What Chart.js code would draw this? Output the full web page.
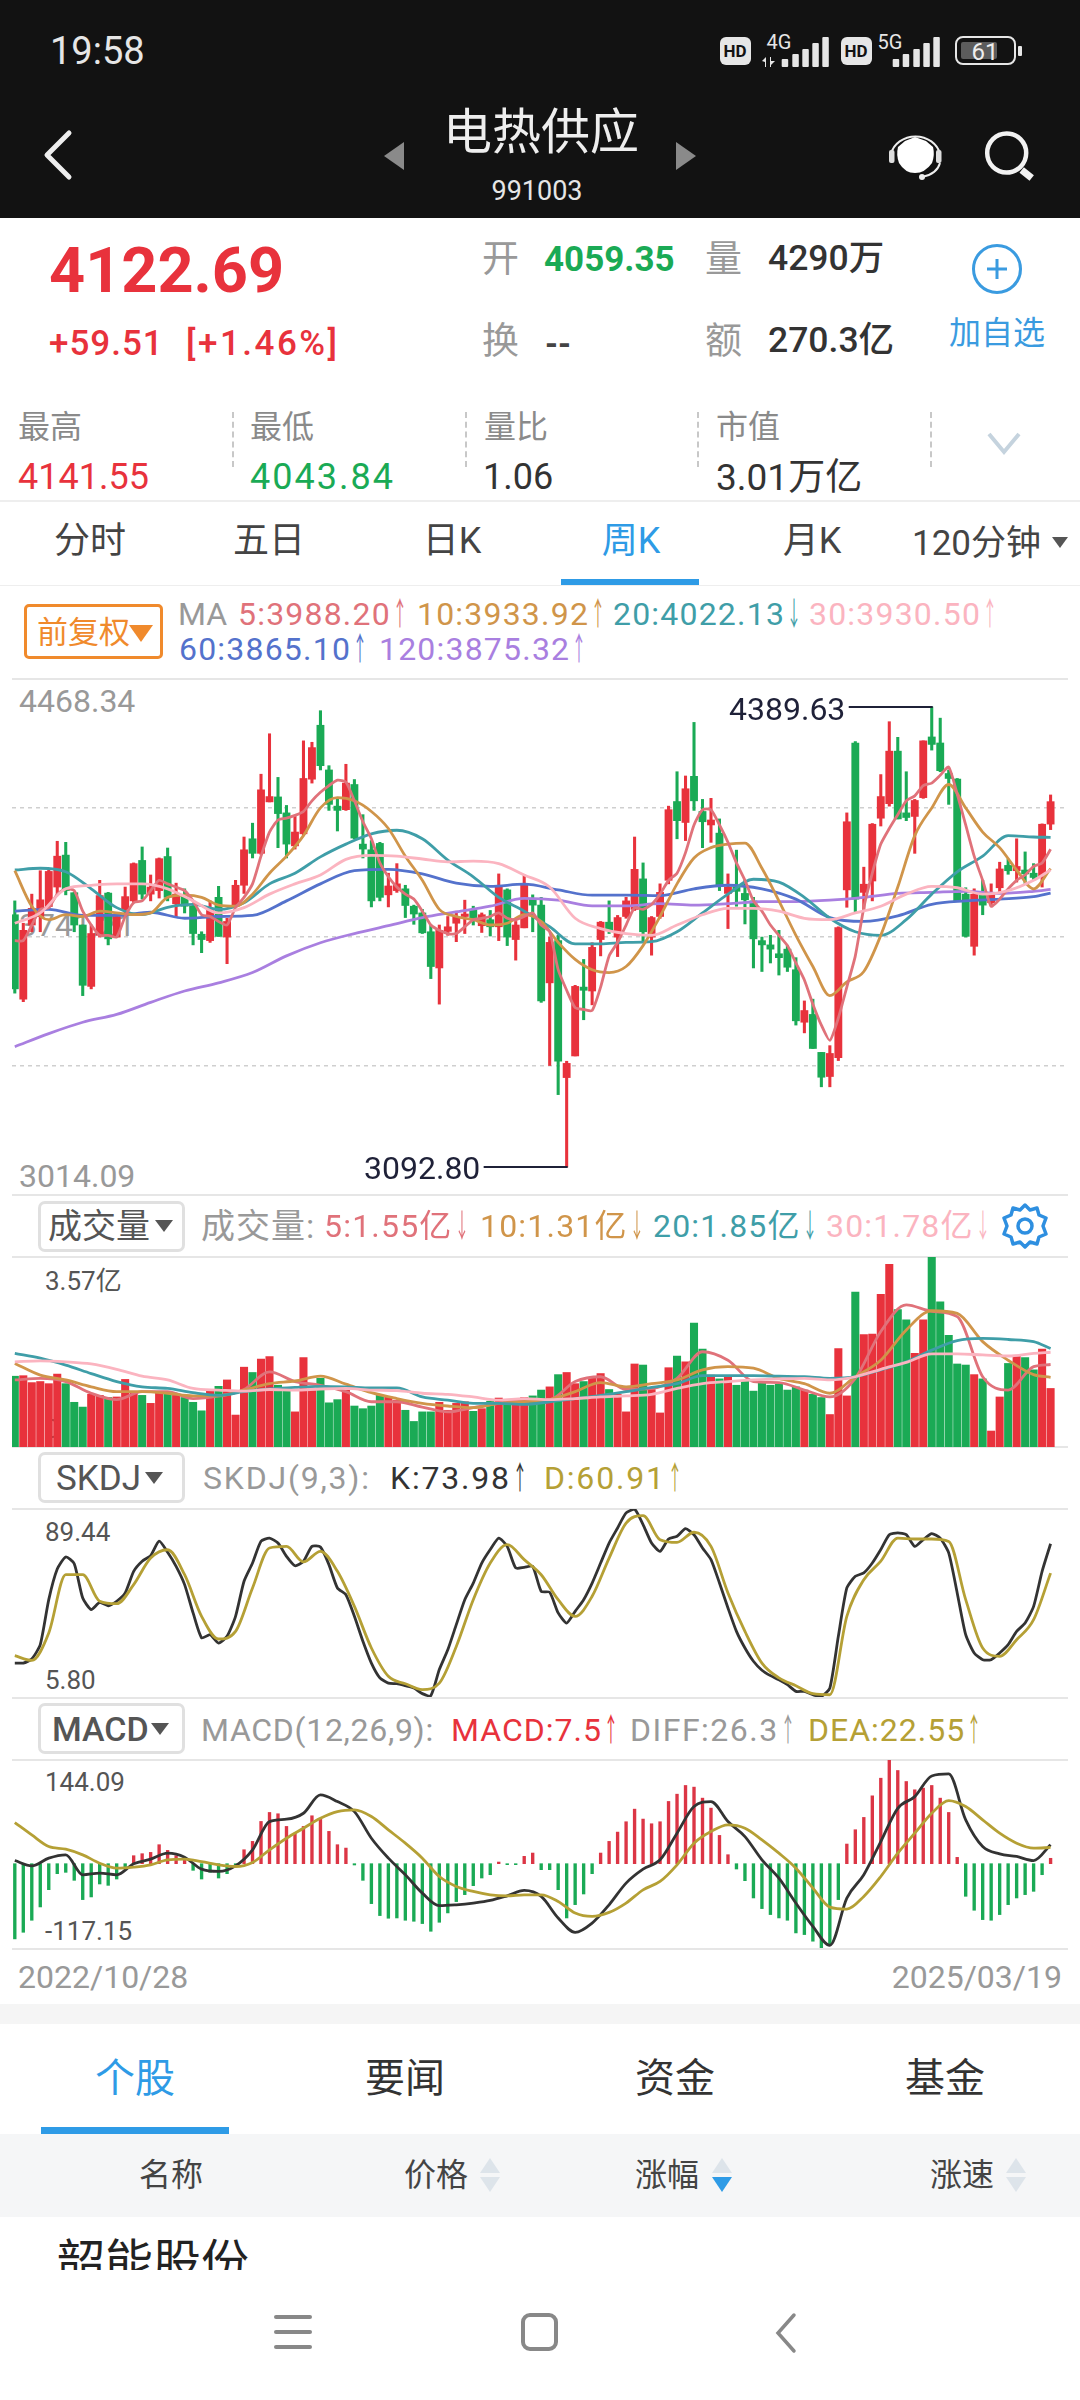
<!DOCTYPE html>
<html lang="zh">
<head>
<meta charset="utf-8">
<title>电热供应</title>
<script src="https://cdn.jsdelivr.net/npm/chart.js@4"></script>
<style>
html,body{margin:0;padding:0;background:#fff}
#app{position:relative;width:1080px;height:2400px;overflow:hidden;background:#fff;font-family:Roboto,"Noto Sans CJK SC",sans-serif}
.t{position:absolute;white-space:nowrap;line-height:1;transform:translateY(-50%)}
.c{transform:translate(-50%,-50%)}
.r{position:absolute}
.a{display:inline-block;transform:scaleX(.45);margin:0 -8px 0 -7px;letter-spacing:0}
canvas{position:absolute;display:block}
.box{position:absolute;box-sizing:border-box;left:38px;width:147px;height:51px;border:3px solid #e0e0e0;border-radius:7px}
.tri{position:absolute;width:0;height:0;border-left:10px solid transparent;border-right:10px solid transparent}
</style>
</head>
<body>
<div id="app">
  <!-- header -->
  <div class="r" style="left:0;top:0;width:1080px;height:218px;background:#121212"></div>
  <div class="t" style="left:50px;top:51px;font-size:38px;color:#e6e6e6">19:58</div>
  <div class="r" style="left:720px;top:37px;width:31px;height:28px;background:#e6e6e6;border-radius:6px"></div>
  <div class="t c" style="left:735px;top:51px;font-size:17px;font-weight:700;color:#121212">HD</div>
  <div class="t c" style="left:779px;top:42px;font-size:20px;color:#e6e6e6">4G</div>
  <div class="r" style="left:841px;top:37px;width:31px;height:28px;background:#e6e6e6;border-radius:6px"></div>
  <div class="t c" style="left:856px;top:51px;font-size:17px;font-weight:700;color:#121212">HD</div>
  <div class="t c" style="left:890px;top:42px;font-size:20px;color:#e6e6e6">5G</div>
  <svg class="r" style="left:760px;top:34px" width="190" height="34" viewBox="0 0 190 34" fill="#e6e6e6">
    <path d="M2 27 L6 23 L6 33 L5 33 L5 28 Z"/><path d="M10 23 L11 23 L11 27 L15 27 L11 31 L11 33 L10 33 Z"/>
    <rect x="21.7" y="25" width="6.5" height="8" rx="1"/><rect x="32.3" y="20" width="6.5" height="13" rx="1"/><rect x="42.3" y="15" width="6.5" height="18" rx="1"/><rect x="52.3" y="9" width="6.5" height="24" rx="1"/><rect x="62.3" y="3" width="6.5" height="30" rx="1"/>
    <rect x="132.7" y="25" width="6.5" height="8" rx="1"/><rect x="142.7" y="20" width="6.5" height="13" rx="1"/><rect x="153.3" y="15" width="6.5" height="18" rx="1"/><rect x="163.3" y="9" width="6.5" height="24" rx="1"/><rect x="173.3" y="3" width="6.5" height="30" rx="1"/>
  </svg>
  <div class="r" style="left:955px;top:36px;width:61px;height:29px;box-sizing:border-box;border:2.5px solid #e6e6e6;border-radius:8px"></div>
  <div class="r" style="left:961px;top:42px;width:36px;height:17px;background:#5c5c5c;border-radius:2px"></div>
  <div class="r" style="left:1018px;top:46px;width:4px;height:10px;background:#e6e6e6;border-radius:1px"></div>
  <div class="t c" style="left:985px;top:52px;font-size:24px;color:#eee">61</div>
  <svg class="r" style="left:40px;top:128px" width="36" height="54" viewBox="0 0 36 54"><path d="M29 5 L7 27 L29 49" fill="none" stroke="#eee" stroke-width="5" stroke-linecap="round" stroke-linejoin="round"/></svg>
  <svg class="r" style="left:380px;top:140px" width="330" height="32" viewBox="0 0 330 32" fill="#8a8a8a"><path d="M4 16 L24 2 L24 30 Z"/><path d="M296 2 L316 16 L296 30 Z"/></svg>
  <div class="t c" style="left:541px;top:132px;font-size:49px;color:#eee">电热供应</div>
  <div class="t c" style="left:537px;top:191px;font-size:27px;color:#e6e6e6">991003</div>
  <svg class="r" style="left:885px;top:128px" width="60" height="60" viewBox="0 0 60 60">
    <path d="M13 19 L20 13 L30 9 L41 13 L48 19 Q50 27 47 35 Q40 45 30 45 Q20 45 14 35 Q11 27 13 19 Z" fill="#fff"/>
    <path d="M6 26 A25 22 0 0 1 55 26" fill="none" stroke="#eee" stroke-width="2"/>
    <rect x="4" y="22" width="5.5" height="13" rx="2" fill="#ddd"/><rect x="51" y="22" width="5.5" height="13" rx="2" fill="#ddd"/>
    <path d="M55 35 Q52 46 37 49" fill="none" stroke="#eee" stroke-width="2"/><circle cx="37" cy="49" r="3" fill="#eee"/>
  </svg>
  <svg class="r" style="left:980px;top:125px" width="60" height="60" viewBox="0 0 60 60"><circle cx="26.7" cy="28" r="19.5" fill="none" stroke="#f2f2f2" stroke-width="4.5"/><path d="M41.7 45 L51.7 53" stroke="#f2f2f2" stroke-width="7"/></svg>

  <!-- quote -->
  <div class="t" style="left:49px;top:270px;font-size:63px;font-weight:700;color:#e8323c">4122.69</div>
  <div class="t" style="left:49px;top:343px;font-size:35px;font-weight:500;letter-spacing:1px;color:#e8323c">+59.51</div>
  <div class="t" style="left:186px;top:343px;font-size:35px;font-weight:500;letter-spacing:2.5px;color:#e8323c">[+1.46%]</div>
  <div class="t" style="left:482px;top:259px;font-size:37px;color:#999">开</div>
  <div class="t" style="left:544px;top:259px;font-size:35px;font-weight:700;color:#1aaa55">4059.35</div>
  <div class="t" style="left:705px;top:259px;font-size:37px;color:#999">量</div>
  <div class="t" style="left:768px;top:259px;font-size:35.5px;font-weight:500;color:#333">4290万</div>
  <div class="t" style="left:482px;top:341px;font-size:37px;color:#999">换</div>
  <div class="t" style="left:545px;top:343px;font-size:33px;font-weight:700;color:#444">--</div>
  <div class="t" style="left:705px;top:341px;font-size:37px;color:#999">额</div>
  <div class="t" style="left:768px;top:341px;font-size:35.5px;font-weight:500;color:#333">270.3亿</div>
  <svg class="r" style="left:970px;top:242px" width="54" height="54" viewBox="0 0 54 54"><circle cx="27" cy="27" r="23.5" fill="none" stroke="#3a9be0" stroke-width="3"/><path d="M17 27 H37 M27 17 V37" stroke="#3a9be0" stroke-width="3"/></svg>
  <div class="t c" style="left:997px;top:333px;font-size:32px;color:#3a9be0">加自选</div>

  <div class="t" style="left:18px;top:427px;font-size:32px;color:#8a8a8a">最高</div>
  <div class="t" style="left:250px;top:427px;font-size:32px;color:#8a8a8a">最低</div>
  <div class="t" style="left:484px;top:427px;font-size:32px;color:#8a8a8a">量比</div>
  <div class="t" style="left:716px;top:427px;font-size:32px;color:#8a8a8a">市值</div>
  <div class="t" style="left:18px;top:477px;font-size:36px;color:#e8323c">4141.55</div>
  <div class="t" style="left:250px;top:477px;font-size:36px;letter-spacing:2px;color:#1aaa55">4043.84</div>
  <div class="t" style="left:483px;top:477px;font-size:36px;color:#333">1.06</div>
  <div class="t" style="left:716px;top:477px;font-size:37px;color:#333">3.01万亿</div>
  <div class="r" style="left:232px;top:412px;height:55px;border-left:2px dashed #c8c8c8"></div>
  <div class="r" style="left:465px;top:412px;height:55px;border-left:2px dashed #c8c8c8"></div>
  <div class="r" style="left:697px;top:412px;height:55px;border-left:2px dashed #c8c8c8"></div>
  <div class="r" style="left:930px;top:412px;height:55px;border-left:2px dashed #c8c8c8"></div>
  <svg class="r" style="left:986px;top:430px" width="36" height="26" viewBox="0 0 36 26"><path d="M3 4 L18 22 L33 4" fill="none" stroke="#c5d3de" stroke-width="4"/></svg>
  <div class="r" style="left:0;top:500px;width:1080px;height:2px;background:#eee"></div>

  <!-- period tabs -->
  <div class="t c" style="left:90px;top:541px;font-size:36px;color:#444">分时</div>
  <div class="t c" style="left:269px;top:541px;font-size:36px;color:#444">五日</div>
  <div class="t c" style="left:452px;top:541px;font-size:36px;color:#444">日K</div>
  <div class="t c" style="left:631px;top:541px;font-size:36px;color:#2e9be6">周K</div>
  <div class="t c" style="left:812px;top:541px;font-size:36px;color:#444">月K</div>
  <div class="t" style="left:912px;top:543px;font-size:35px;color:#444">120分钟</div>
  <div class="tri" style="left:1052px;top:537px;border-left-width:8px;border-right-width:8px;border-top:11px solid #555"></div>
  <div class="r" style="left:561px;top:579px;width:138px;height:6px;background:#2e9be6"></div>
  <div class="r" style="left:0;top:585px;width:1080px;height:1px;background:#eee"></div>

  <!-- MA legend -->
  <div class="r" style="left:24px;top:604px;width:139px;height:55px;box-sizing:border-box;border:3px solid #f08a2c;border-radius:5px"></div>
  <div class="t" style="left:37px;top:632px;font-size:31px;color:#f08a2c">前复权</div>
  <div class="tri" style="left:129px;top:625px;border-left-width:12px;border-right-width:12px;border-top:17px solid #f08a2c"></div>
  <div class="t" style="left:178px;top:614px;font-size:32px;color:#999">MA</div>
  <div class="t" style="left:238px;top:614px;font-size:32px;letter-spacing:1.2px;color:#e0727a">5:3988.20<span class="a">↑</span></div>
  <div class="t" style="left:417px;top:614px;font-size:32px;letter-spacing:1.2px;color:#d0954a">10:3933.92<span class="a">↑</span></div>
  <div class="t" style="left:613px;top:614px;font-size:32px;letter-spacing:1.2px;color:#3f9ea8">20:4022.13<span class="a">↓</span></div>
  <div class="t" style="left:809px;top:614px;font-size:32px;letter-spacing:1.2px;color:#fbb4c0">30:3930.50<span class="a">↑</span></div>
  <div class="t" style="left:179px;top:649px;font-size:32px;letter-spacing:1.2px;color:#5472cc">60:3865.10<span class="a">↑</span></div>
  <div class="t" style="left:379px;top:649px;font-size:32px;letter-spacing:1.2px;color:#a97fe0">120:3875.32<span class="a">↑</span></div>

  <!-- panel rules -->
  <div class="r" style="left:12px;top:678px;width:1056px;height:2px;background:#e6e6e6"></div>
  <div class="r" style="left:12px;top:1194px;width:1056px;height:2px;background:#e6e6e6"></div>
  <div class="r" style="left:12px;top:1256px;width:1056px;height:2px;background:#e6e6e6"></div>
  <div class="r" style="left:12px;top:1446px;width:1056px;height:2px;background:#e6e6e6"></div>
  <div class="r" style="left:12px;top:1508px;width:1056px;height:2px;background:#e6e6e6"></div>
  <div class="r" style="left:12px;top:1697px;width:1056px;height:2px;background:#e6e6e6"></div>
  <div class="r" style="left:12px;top:1759px;width:1056px;height:2px;background:#e6e6e6"></div>
  <div class="r" style="left:12px;top:1948px;width:1056px;height:2px;background:#e6e6e6"></div>

  <!-- axis labels sit under the marks -->
  <div class="t" style="left:19px;top:701px;font-size:32px;color:#999">4468.34</div>
  <div class="t" style="left:19px;top:925px;font-size:32px;color:#999">3741.21</div>
  <div class="t" style="left:19px;top:1176px;font-size:32px;color:#999">3014.09</div>
  <div class="t" style="left:45px;top:1281px;font-size:26px;color:#555">3.57亿</div>
  <div class="t" style="left:45px;top:1429px;font-size:26px;color:#555">0</div>
  <div class="t" style="left:45px;top:1532px;font-size:26px;color:#555">89.44</div>
  <div class="t" style="left:45px;top:1680px;font-size:26px;color:#555">5.80</div>
  <div class="t" style="left:45px;top:1782px;font-size:26px;color:#555">144.09</div>
  <div class="t" style="left:45px;top:1931px;font-size:26px;color:#555">-117.15</div>

  <canvas id="priceChart" style="left:12px;top:679px" width="1056" height="516"></canvas>
  <canvas id="volumeChart" style="left:12px;top:1257px" width="1056" height="190"></canvas>
  <canvas id="skdjChart" style="left:12px;top:1509px" width="1056" height="188"></canvas>
  <canvas id="macdChart" style="left:12px;top:1760px" width="1056" height="188"></canvas>

  <div class="t" style="left:364px;top:1168px;font-size:32px;color:#1f2138">3092.80</div>
  <div class="t" style="left:729px;top:709px;font-size:32px;color:#1f2138">4389.63</div>

  <!-- volume title -->
  <div class="box" style="top:1201px"></div>
  <div class="t" style="left:48px;top:1226px;font-size:34px;color:#555">成交量</div>
  <div class="tri" style="left:155px;top:1220px;border-left-width:9px;border-right-width:9px;border-top:12px solid #555"></div>
  <div class="t" style="left:201px;top:1226px;font-size:34px;letter-spacing:1px;color:#999">成交量:</div>
  <div class="t" style="left:324px;top:1226px;font-size:32px;letter-spacing:1.2px;color:#e0727a">5:1.55亿<span class="a">↓</span></div>
  <div class="t" style="left:480px;top:1226px;font-size:32px;letter-spacing:1.2px;color:#d0954a">10:1.31亿<span class="a">↓</span></div>
  <div class="t" style="left:653px;top:1226px;font-size:32px;letter-spacing:1.2px;color:#3f9ea8">20:1.85亿<span class="a">↓</span></div>
  <div class="t" style="left:826px;top:1226px;font-size:32px;letter-spacing:1.2px;color:#fbb4c0">30:1.78亿<span class="a">↓</span></div>
  <svg class="r" style="left:1001px;top:1202px" width="48" height="48" viewBox="0 0 48 48" fill="none" stroke="#2e8fe0" stroke-width="3.5">
    <path d="M24 3 L29 8 L36 6 L38 13 L45 16 L42 24 L45 32 L38 35 L36 42 L29 40 L24 45 L19 40 L12 42 L10 35 L3 32 L6 24 L3 16 L10 13 L12 6 L19 8 Z" stroke-linejoin="round"/>
    <circle cx="24" cy="24" r="7"/>
  </svg>

  <!-- SKDJ title -->
  <div class="box" style="top:1452px"></div>
  <div class="t" style="left:56px;top:1478px;font-size:35px;color:#555">SKDJ</div>
  <div class="tri" style="left:145px;top:1472px;border-left-width:9px;border-right-width:9px;border-top:12px solid #555"></div>
  <div class="t" style="left:203px;top:1478px;font-size:32px;letter-spacing:1.8px;color:#999">SKDJ(9,3):</div>
  <div class="t" style="left:390px;top:1478px;font-size:32px;letter-spacing:1.8px;color:#333">K:73.98<span class="a">↑</span></div>
  <div class="t" style="left:544px;top:1478px;font-size:32px;letter-spacing:1.8px;color:#b5a035">D:60.91<span class="a">↑</span></div>

  <!-- MACD title -->
  <div class="box" style="top:1703px"></div>
  <div class="t" style="left:52px;top:1729px;font-size:34px;font-weight:500;color:#555">MACD</div>
  <div class="tri" style="left:151px;top:1723px;border-left-width:9px;border-right-width:9px;border-top:12px solid #555"></div>
  <div class="t" style="left:201px;top:1730px;font-size:32px;letter-spacing:.7px;color:#999">MACD(12,26,9):</div>
  <div class="t" style="left:451px;top:1730px;font-size:32px;letter-spacing:1px;color:#e8323c">MACD:7.5<span class="a">↑</span></div>
  <div class="t" style="left:630px;top:1730px;font-size:32px;letter-spacing:1.5px;color:#999">DIFF:26.3<span class="a">↑</span></div>
  <div class="t" style="left:808px;top:1730px;font-size:32px;letter-spacing:1px;color:#b5a035">DEA:22.55<span class="a">↑</span></div>

  <div class="t" style="left:18px;top:1977px;font-size:32px;color:#999">2022/10/28</div>
  <div class="t" style="right:18px;top:1977px;font-size:32px;color:#999">2025/03/19</div>

  <!-- lower tabs -->
  <div class="r" style="left:0;top:2004px;width:1080px;height:20px;background:#f5f5f5"></div>
  <div class="t c" style="left:135px;top:2079px;font-size:40px;color:#2e9be6">个股</div>
  <div class="t c" style="left:405px;top:2079px;font-size:40px;color:#333">要闻</div>
  <div class="t c" style="left:675px;top:2079px;font-size:40px;color:#333">资金</div>
  <div class="t c" style="left:945px;top:2079px;font-size:40px;color:#333">基金</div>
  <div class="r" style="left:0;top:2134px;width:1080px;height:83px;background:#f5f6f7"></div>
  <div class="r" style="left:41px;top:2127px;width:188px;height:7px;background:#2e9be6"></div>
  <div class="t c" style="left:171px;top:2175px;font-size:32px;color:#444">名称</div>
  <div class="t c" style="left:436px;top:2175px;font-size:32px;color:#444">价格</div>
  <div class="t c" style="left:667px;top:2175px;font-size:32px;color:#444">涨幅</div>
  <div class="t c" style="left:962px;top:2175px;font-size:32px;color:#444">涨速</div>
  <div class="tri" style="left:480px;top:2158px;border-bottom:15px solid #dde4ea"></div>
  <div class="tri" style="left:480px;top:2177px;border-top:15px solid #dde4ea"></div>
  <div class="tri" style="left:712px;top:2158px;border-bottom:15px solid #dde4ea"></div>
  <div class="tri" style="left:712px;top:2177px;border-top:15px solid #2e9be6"></div>
  <div class="tri" style="left:1006px;top:2158px;border-bottom:15px solid #dde4ea"></div>
  <div class="tri" style="left:1006px;top:2177px;border-top:15px solid #dde4ea"></div>
  <div class="r" style="left:0;top:2225px;width:1080px;height:45px;overflow:hidden">
    <div class="t" style="left:57px;top:38px;font-size:48px;color:#222">韶能股份</div>
  </div>

  <!-- nav bar -->
  <div class="r" style="left:274px;top:2315px;width:38px;height:4px;background:#888;border-radius:2px"></div>
  <div class="r" style="left:274px;top:2330px;width:38px;height:4px;background:#888;border-radius:2px"></div>
  <div class="r" style="left:274px;top:2345px;width:38px;height:4px;background:#888;border-radius:2px"></div>
  <div class="r" style="left:521px;top:2313px;width:37px;height:38px;box-sizing:border-box;border:4px solid #888;border-radius:9px"></div>
  <svg class="r" style="left:772px;top:2312px" width="28" height="42" viewBox="0 0 28 42"><path d="M22 3 L6 21 L22 39" fill="none" stroke="#888" stroke-width="3.5" stroke-linecap="round"/></svg>
</div>

<script>
const candleOpen = [3804,3566,3775,3799,3827,3882,3972,3866,3775,3602,3746,3865,3741,3819,3843,3957,3862,3872,3968,3835,3858,3828,3749,3731,3853,3741,3831,3887,4018,3977,4122,4136,4091,3998,4032,4186,4338,4212,4110,4100,4171,4003,3987,4005,3860,3872,3877,3828,3809,3756,3654,3757,3780,3799,3817,3773,3790,3770,3874,3734,3767,3848,3831,3612,3731,3345,3406,3600,3589,3734,3783,3741,3799,3819,3905,3741,3799,3901,4123,4064,4194,4095,4057,4034,3864,3882,3864,3843,3731,3719,3694,3707,3649,3501,3523,3416,3348,3401,3874,4288,3867,3899,4076,4117,4265,4091,4081,4134,4305,4288,4202,4186,3862,3715,3862,3838,3880,3943,3928,3930,3921,3913,4059.35];
const candleClose = [3595,3760,3822,3846,3926,3969,3872,3775,3605,3751,3858,3736,3799,3855,3948,3862,3882,3962,3853,3862,3828,3751,3734,3819,3743,3785,3887,3987,3977,4156,4137,4089,4003,4037,4188,4275,4224,4115,4098,4175,4020,3989,3843,3853,3885,3891,3830,3806,3753,3658,3760,3770,3799,3806,3790,3804,3770,3882,3741,3775,3891,3831,3561,3726,3391,3385,3602,3591,3712,3783,3760,3796,3843,3932,3756,3796,3867,4100,4069,4159,4125,4066,4071,3887,3882,3870,3846,3736,3719,3707,3683,3656,3505,3534,3427,3346,3413,3768,4066,3848,3890,4059,4137,4265,4074,4078,4126,4294,4284,4210,4188,3843,3743,3862,3831,3862,3933,3928,3940,3919,3909,4059,4122.69];
const candleHigh = [3843,3780,3862,3928,3930,4011,4008,3867,3775,3775,3901,3867,3799,3882,3950,3995,3916,3964,3992,3893,3877,3833,3756,3843,3884,3794,3901,4023,4062,4200,4314,4191,4112,4081,4294,4290,4379,4224,4134,4228,4185,4086,4013,4008,3921,3948,3887,3831,3819,3775,3775,3799,3814,3845,3828,3809,3816,3919,3877,3785,3916,3860,3853,3741,3746,3391,3605,3678,3725,3785,3843,3802,3853,4023,3950,3799,3891,4110,4207,4195,4346,4129,4132,4074,3919,3986,3901,3853,3741,3746,3760,3717,3683,3561,3566,3416,3435,3770,4091,4292,3938,4061,4199,4348,4304,4207,4129,4294,4389.63,4358,4212,4188,3880,3877,3901,3891,3952,3961,4018,3981,3948,4060,4141.55];
const candleLow = [3583,3559,3756,3756,3819,3862,3860,3756,3576,3595,3741,3719,3741,3799,3838,3848,3843,3851,3843,3799,3809,3719,3697,3726,3743,3666,3824,3864,3964,3974,4122,3993,3964,3989,4027,4175,4212,4098,4040,4098,4018,3964,3826,3843,3826,3867,3796,3777,3751,3624,3552,3746,3728,3751,3775,3754,3744,3731,3717,3676,3767,3756,3557,3379,3297,3092.8,3406,3508,3550,3688,3751,3686,3794,3816,3726,3690,3794,3891,4018,4013,4098,3993,4008,3872,3765,3828,3778,3654,3644,3668,3634,3644,3493,3471,3427,3319,3319,3393,3825,3811,3819,3843,4054,4110,4074,4069,3977,4132,4268,4207,4115,3843,3741,3690,3804,3828,3867,3918,3896,3891,3901,3882,4043.84];

// moving averages, read every candle / every 2nd / 3rd / 4th
const ma5 = [3731,3731,3775,3819,3824,3862,3877,3872,3814,3775,3746,3746,3741,3799,3838,3843,3872,3901,3891,3882,3872,3843,3804,3799,3785,3775,3824,3853,3891,3969,4037,4071,4076,4084,4095,4125,4149,4168,4183,4178,4125,4066,4018,3950,3911,3882,3862,3848,3814,3775,3760,3751,3751,3770,3790,3794,3799,3809,3794,3790,3799,3809,3775,3756,3649,3591,3542,3537,3534,3600,3688,3726,3775,3824,3819,3833,3862,3901,3921,3979,4057,4100,4100,4057,4008,3950,3901,3843,3814,3775,3746,3717,3668,3620,3552,3493,3450,3513,3600,3688,3824,3921,4003,4047,4086,4125,4139,4168,4175,4197,4220,4144,4057,3969,3901,3828,3848,3877,3901,3916,3940,3950,3988.2];
const ma10 = [3928,3828,3790,3804,3799,3814,3809,3804,3809,3853,3859,3853,3831,3828,3862,3921,3969,4027,4105,4134,4125,4095,4047,3969,3901,3819,3799,3790,3775,3780,3804,3785,3726,3678,3649,3641,3658,3717,3799,3891,3964,3993,4003,4006,3935,3843,3746,3658,3576,3615,3644,3746,3882,4027,4105,4171,4105,4037,3993,3930,3877,3933.92];
const ma20 = [3930,3935,3925,3877,3824,3804,3825,3833,3819,3838,3891,3921,3967,4003,4032,4042,4018,3958,3911,3853,3814,3770,3722,3722,3726,3728,3756,3809,3862,3904,3896,3853,3794,3756,3746,3790,3862,3925,3969,4027,4023,4022.13];
const ma30 = [3780,3809,3877,3887,3891,3891,3877,3843,3809,3824,3862,3891,3916,3960,3971,3969,3961,3953,3955,3948,3916,3882,3794,3765,3751,3746,3775,3804,3822,3822,3814,3794,3790,3809,3828,3862,3884,3880,3862,3872,3901,3930.5];
const ma60 = [3814,3819,3802,3802,3811,3794,3799,3802,3843,3891,3928,3932,3919,3893,3884,3890,3874,3859,3859,3858,3877,3887,3877,3848,3796,3785,3801,3833,3843,3848,3855,3865.1];
const ma120 = [3432,3469,3501,3523,3557,3589,3612,3641,3688,3725,3751,3773,3796,3812,3828,3850,3845,3829,3829,3835,3831,3835,3841,3841,3845,3853,3864,3867,3870,3864,3870,3875.32];

// weekly volume in 亿
const volume = [1.33,1.34,1.21,1.23,1.19,1.37,1.19,0.84,0.75,0.99,0.97,0.93,0.94,1.27,1.04,0.97,0.82,1.04,0.99,0.97,0.93,0.84,0.68,1.06,1.14,1.26,0.60,1.50,1.40,1.65,1.70,1.16,1.07,0.66,1.68,1.10,1.29,0.83,0.89,1.07,0.77,0.72,0.77,0.97,0.94,0.88,0.69,0.48,0.66,0.66,0.84,0.69,0.82,0.85,0.67,0.72,0.86,0.92,0.89,0.79,0.93,0.96,1.07,1.13,1.36,1.40,1.19,1.23,1.29,1.38,1.08,0.99,0.66,1.56,1.54,1.08,0.64,1.49,1.71,1.60,2.33,1.84,1.35,1.28,1.31,1.16,1.24,1.05,1.21,1.16,1.18,1.07,1.13,1.07,0.99,0.93,0.61,1.85,0.96,2.91,2.11,2.12,2.87,3.43,2.58,2.39,1.76,2.39,3.57,2.73,2.10,1.56,1.54,1.36,1.28,0.30,0.94,1.57,1.71,1.68,1.45,1.84,1.10];
const volMa5 = [1.26,1.29,1.23,1.01,0.89,1.04,1.04,0.91,0.96,1.08,1.41,1.23,1.16,1.04,0.85,0.85,0.75,0.66,0.74,0.82,0.88,0.89,1.23,1.32,1.08,1.10,1.29,1.79,1.63,1.23,1.21,1.07,0.94,1.29,2.17,2.67,2.55,2.45,1.32,1.07,1.51,1.55];
const volMa10 = [1.57,1.35,1.26,1.13,1.04,1.04,1.01,0.96,0.96,1.07,1.19,1.24,1.33,1.18,1.02,0.91,0.82,0.77,0.74,0.82,0.85,0.89,1.04,1.21,1.13,1.19,1.26,1.45,1.51,1.48,1.29,1.19,1.01,1.32,1.63,2.20,2.56,2.51,1.98,1.63,1.36,1.31];
const volMa20 = [1.76,1.67,1.54,1.38,1.23,1.13,1.10,1.02,0.97,1.04,1.09,1.12,1.14,1.13,1.11,1.11,0.94,0.88,0.82,0.82,0.80,0.85,0.91,0.97,1.04,1.12,1.19,1.34,1.34,1.34,1.33,1.32,1.29,1.32,1.45,1.60,1.82,2.00,2.04,2.02,1.98,1.85];
const volMa30 = [1.60,1.62,1.60,1.56,1.46,1.33,1.26,1.10,1.07,1.05,1.08,1.07,1.09,1.10,1.07,1.06,1.01,0.99,0.94,0.88,0.91,0.89,0.91,0.94,0.96,0.99,1.10,1.19,1.23,1.26,1.28,1.29,1.26,1.32,1.46,1.59,1.75,1.75,1.73,1.71,1.76,1.78];

const skdjK = [20.9,20.9,22.7,29.1,49.1,62.7,68.1,65.1,49.8,44.7,47.9,46.4,48.4,52.1,61.7,66.2,68.7,75.1,70.2,63.9,55.8,43.2,32.1,33.5,29.8,32.8,41.7,57.3,65.4,75.1,76.5,74.3,68.4,64.2,66.2,72.8,72.5,64.7,54.3,51.3,41.7,30.6,20.9,14.3,12.0,11.7,10.8,9.8,7.3,6.4,18.0,26.8,38.0,49.1,56.5,65.4,71.4,76.5,72.8,63.2,63.5,63.9,52.8,52.4,43.2,38.7,43.9,49.1,56.5,65.4,74.3,81.0,87.7,89.4,82.5,74.3,70.6,76.1,77.3,80.7,78.0,72.1,66.9,56.5,45.4,35.0,27.6,21.7,17.7,15.3,13.5,11.3,8.3,8.3,6.8,6.1,9.8,32.8,54.3,59.5,61.0,65.4,71.4,78.0,78.8,78.0,72.8,75.8,78.5,76.5,69.9,52.1,33.5,25.4,22.4,22.4,25.4,29.1,35.0,38.7,46.1,61.7,73.98];
const skdjD = [24.2,22.1,34.3,60.2,60.2,48.4,47.3,55.8,67.6,71.3,60.2,41.7,31.6,35.0,54.3,72.1,72.8,65.9,70.6,61.7,46.1,27.6,15.0,11.7,9.1,12.0,28.3,49.1,65.4,73.6,66.9,60.2,49.1,41.7,50.6,67.6,83.2,86.5,75.8,74.6,79.1,72.8,52.1,35.0,20.9,14.3,10.8,7.3,6.8,41.7,58.0,66.2,76.5,76.1,76.1,75.0,49.1,27.6,23.9,31.3,40.2,60.91];

const macdHist = [-104.5,-95.3,-78.6,-60.1,-36.1,-13.9,-12.0,-23.1,-49.9,-46.2,-28.2,-30.1,-21.3,-7.4,11.1,13.9,15.7,26.4,18.5,11.1,6.5,-9.2,-21.3,-12.0,-19.9,-13.9,-2.8,19.4,31.0,58.7,71.2,69.4,51.8,42.5,51.8,66.6,62.0,44.9,26.4,21.7,-1.8,-23.1,-55.5,-72.1,-75.8,-75.4,-78.6,-80.0,-83.2,-93.9,-81.4,-68.4,-52.7,-43.0,-30.5,-19.9,-15.3,2.3,-1.4,-1.4,10.2,14.8,-8.3,-8.3,-36.1,-75.4,-56.9,-42.1,-13.9,14.8,31.0,43.9,58.3,75.8,62.0,55.5,58.3,86.5,96.6,108.7,106.4,91.1,77.2,39.3,12.5,-7.4,-23.6,-47.6,-62.4,-70.7,-75.4,-78.6,-96.2,-98.5,-107.7,-117.0,-112.4,-49.9,27.3,47.2,64.3,94.3,118.8,144.0,129.5,114.2,102.7,105.0,108.7,91.1,71.2,8.8,-45.3,-64.7,-77.7,-78.6,-70.7,-56.9,-47.6,-43.0,-38.4,-15.3,7.5];
const macdDiff = [4.4,-3.0,7.7,12.3,-15.4,-13.1,-15.4,-0.2,6.3,14.6,9.1,-7.6,-10.8,-3.0,19.2,58.5,61.8,70.1,95.5,86.3,72.4,35.4,7.7,-15.4,-40.9,-58.4,-57.1,-54.7,-51.1,-44.6,-37.2,-45.5,-75.5,-95.4,-82.5,-57.1,-27.0,-7.6,5.4,42.4,79.4,86.3,58.5,37.7,5.4,-20.1,-54.7,-87.1,-113.5,-47.8,-15.4,30.8,77.0,93.2,121.9,124.7,60.9,23.9,13.7,10.0,4.4,26.3];
const macdDea = [57.2,40.0,23.9,20.2,12.3,0.7,-6.2,-4.8,-1.6,5.4,6.3,3.0,-1.6,-3.9,1.7,19.2,35.4,49.3,63.2,72.4,74.7,65.5,47.0,28.5,7.7,-17.8,-31.6,-38.6,-43.2,-44.6,-43.2,-43.2,-52.4,-68.6,-73.3,-67.7,-54.7,-36.3,-24.7,-1.6,28.5,44.7,53.9,49.3,33.1,14.6,-6.2,-33.9,-60.3,-63.1,-45.5,-17.8,14.6,42.4,70.1,87.7,79.4,60.9,42.4,28.5,21.6,22.55];

const priceRange = [3014.09, 4468.34];
const priceGridTicks = [4104.78, 3741.21, 3377.65];
const volumeRange = [0, 3.57];
const skdjRange = [5.80, 89.44];
const macdRange = [-117.15, 144.09];

const RED = '#e8323c', GREEN = '#1aaa55';
const N = candleOpen.length;
const X_AXIS = { type: 'linear', display: false, offset: false, min: -0.33, max: 124.05 };
const isUp = i => candleClose[i] >= candleOpen[i];

Chart.defaults.animation = false;
Chart.defaults.responsive = false;
Chart.defaults.plugins.legend.display = false;
Chart.defaults.plugins.tooltip.enabled = false;

// values are read every `step` candles, the last one sits on the last candle
function points(vals, step) {
    return vals.map((v, j) => ({ x: Math.min(j * step, N - 1), y: v }));
}

function lineSet(vals, step, color, order) {
    return {
        type: 'line', data: points(vals, step), borderColor: color, borderWidth: 2.8,
        pointRadius: 0, cubicInterpolationMode: step > 1 ? 'monotone' : 'default',
        tension: step > 1 ? 0.4 : 0.2, order: order
    };
}

function yAxis(range) {
    return {
        min: range[0], max: range[1],
        ticks: { display: false },
        border: { display: false },
        grid: { display: false, drawTicks: false }
    };
}

// leader lines out of the highest and lowest candle
const extremaLeader = {
    id: 'extremaLeader',
    afterDatasetsDraw(chart) {
        const { ctx, scales: { x, y } } = chart;
        ctx.save();
        ctx.strokeStyle = '#1f2138';
        ctx.lineWidth = 2;
        [candleHigh, candleLow].forEach((series, k) => {
            const value = k ? Math.min(...series) : Math.max(...series);
            const px = x.getPixelForValue(series.indexOf(value));
            const py = y.getPixelForValue(value);
            ctx.beginPath();
            ctx.moveTo(px - 83, py);
            ctx.lineTo(px + 1, py);
            ctx.stroke();
        });
        ctx.restore();
    }
};

const priceAxis = yAxis(priceRange);
priceAxis.grid = { display: true, drawTicks: false, color: '#cfcfcf', lineWidth: 1.5 };
priceAxis.border = { display: false, dash: [4, 4] };
priceAxis.afterBuildTicks = axis => { axis.ticks = priceGridTicks.map(v => ({ value: v })); };

new Chart(document.getElementById('priceChart'), {
    type: 'bar',
    data: {
        datasets: [
            lineSet(ma120, 4, '#a97fe0', 6),
            lineSet(ma60, 4, '#5472cc', 5),
            lineSet(ma30, 3, '#fbb4c0', 1),
            lineSet(ma20, 3, '#3f9ea8', 4),
            lineSet(ma10, 2, '#d0954a', 3),
            lineSet(ma5, 1, '#e0727a', 2),
            {
                data: candleOpen.map((o, i) => ({ x: i, y: [o, candleClose[i]] })),
                backgroundColor: candleOpen.map((o, i) => isUp(i) ? RED : GREEN),
                barThickness: 7.2, minBarLength: 2, grouped: false, order: 10
            },
            {
                data: candleLow.map((l, i) => ({ x: i, y: [l, candleHigh[i]] })),
                backgroundColor: candleLow.map((l, i) => isUp(i) ? RED : GREEN),
                barThickness: 2.4, grouped: false, order: 11
            }
        ]
    },
    options: { scales: { x: X_AXIS, y: priceAxis } },
    plugins: [extremaLeader]
});

new Chart(document.getElementById('volumeChart'), {
    type: 'bar',
    data: {
        datasets: [
            lineSet(volMa30, 3, '#fbb4c0', 1),
            lineSet(volMa20, 3, '#3f9ea8', 2),
            lineSet(volMa10, 3, '#d0954a', 3),
            lineSet(volMa5, 3, '#e0727a', 4),
            {
                data: volume.map((v, i) => ({ x: i, y: v })),
                backgroundColor: volume.map((v, i) => isUp(i) ? RED : GREEN),
                barThickness: 7.4, grouped: false, order: 10
            }
        ]
    },
    options: { scales: { x: X_AXIS, y: yAxis(volumeRange) } }
});

new Chart(document.getElementById('skdjChart'), {
    type: 'line',
    data: {
        datasets: [
            lineSet(skdjD, 2, '#b5a035', 1),
            lineSet(skdjK, 1, '#333333', 2)
        ]
    },
    options: { scales: { x: X_AXIS, y: yAxis(skdjRange) } }
});

new Chart(document.getElementById('macdChart'), {
    type: 'bar',
    data: {
        datasets: [
            lineSet(macdDea, 2, '#b5a035', 1),
            lineSet(macdDiff, 2, '#333333', 2),
            {
                data: macdHist.map((v, i) => ({ x: i, y: v })),
                backgroundColor: macdHist.map(v => v >= 0 ? '#dc3545' : GREEN),
                barThickness: 2.7, grouped: false, order: 10
            }
        ]
    },
    options: { scales: { x: X_AXIS, y: yAxis(macdRange) } }
});
</script>
</body>
</html>
